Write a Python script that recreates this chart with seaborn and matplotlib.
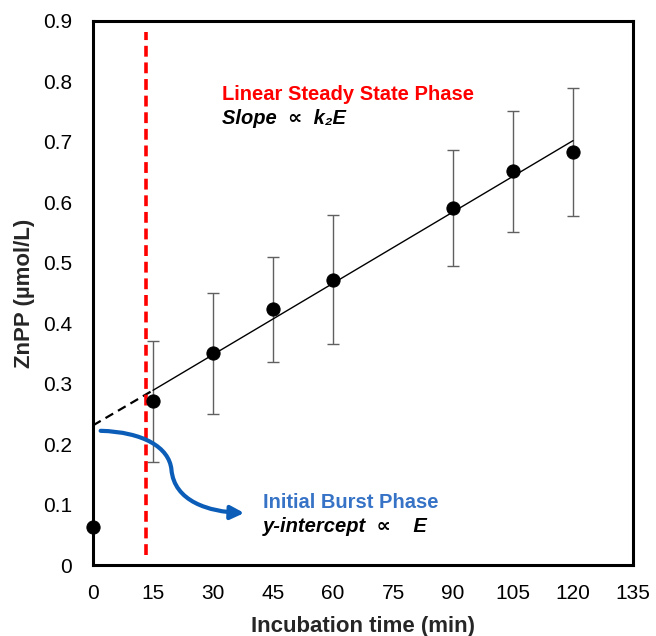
import matplotlib
matplotlib.use("Agg")
import matplotlib.pyplot as plt
import pandas as pd
import seaborn as sns
from matplotlib.path import Path
from matplotlib.patches import FancyArrowPatch

# measured data
time_min = [0, 15, 30, 45, 60, 90, 105, 120]
znpp = [0.063, 0.271, 0.350, 0.423, 0.472, 0.591, 0.651, 0.683]
znpp_err = [0.0, 0.100, 0.100, 0.087, 0.107, 0.096, 0.100, 0.106]

# linear fit of the steady state part and its extrapolation to t = 0
fit_x = [15, 120]
fit_y = [0.289, 0.702]
extrap_x = [0, 15]
extrap_y = [0.231, 0.289]

# burst / steady state boundary
boundary_x = 13.3
boundary_y = [0.017, 0.882]

x_ticks = [0, 15, 30, 45, 60, 75, 90, 105, 120, 135]
y_ticks = [0, 0.1, 0.2, 0.3, 0.4, 0.5, 0.6, 0.7, 0.8, 0.9]

df = pd.DataFrame({"time": time_min, "znpp": znpp, "err": znpp_err})

sns.set_style("white")
plt.rcParams['font.family'] = ['Liberation Sans', 'DejaVu Sans']

fig = plt.figure(figsize=(6.56, 6.36), dpi=100)
ax = fig.add_axes([0.1418, 0.1116, 0.8232, 0.8555])

err_df = df[df["err"] > 0]
ax.errorbar(err_df["time"], err_df["znpp"], yerr=err_df["err"], fmt="none",
            ecolor="#606060", elinewidth=1, capsize=4.5, capthick=1, zorder=2)

sns.lineplot(x=fit_x, y=fit_y, color="black", linewidth=1, ax=ax, zorder=3)
ax.plot(extrap_x, extrap_y, color="black", linewidth=1.6, dashes=(4, 2.5), zorder=3)
ax.plot([boundary_x, boundary_x], boundary_y, color="red", linewidth=2.6,
        dashes=(3, 1.6), zorder=4)

sns.scatterplot(data=df, x="time", y="znpp", color="black", s=90, edgecolor="black",
                ax=ax, zorder=5, clip_on=False)

# curved arrow towards the burst phase label
verts = [(1.9, 0.222), (12.5, 0.220), (19.0, 0.195), (19.6, 0.158),
         (20.3, 0.105), (29.0, 0.088), (37.8, 0.086)]
codes = [Path.MOVETO, Path.CURVE4, Path.CURVE4, Path.CURVE4,
         Path.CURVE4, Path.CURVE4, Path.CURVE4]
arrow = FancyArrowPatch(path=Path(verts, codes), arrowstyle="-|>", mutation_scale=20,
                        color="#0B5DB8", linewidth=3, zorder=4)
ax.add_patch(arrow)

ax.text(32.3, 0.778, "Linear Steady State Phase", color="#FF0000", fontsize=14.5,
        fontweight="bold", va="center", ha="left")
ax.text(32.3, 0.738, "Slope  \u221d  k\u2082E", color="black", fontsize=14.5,
        fontweight="bold", fontstyle="italic", va="center", ha="left")
ax.text(42.5, 0.104, "Initial Burst Phase", color="#3673C6", fontsize=14.5,
        fontweight="bold", va="center", ha="left")
ax.text(42.5, 0.064, "y-intercept  \u221d    E", color="black", fontsize=14.5,
        fontweight="bold", fontstyle="italic", va="center", ha="left")

ax.set_xlim(0, 135)
ax.set_ylim(0, 0.9)
ax.set_xticks(x_ticks)
ax.set_yticks(y_ticks)
ax.set_xticklabels([str(t) for t in x_ticks])
ax.set_yticklabels(["0"] + [f"{v:.1f}" for v in y_ticks[1:]])
ax.tick_params(axis="both", length=0, labelsize=15, colors="black")
ax.tick_params(axis="x", pad=14)
ax.tick_params(axis="y", pad=15)

ax.set_xlabel("Incubation time (min)", fontsize=16, fontweight="bold", labelpad=9)
ax.set_ylabel("ZnPP (\u00b5mol/L)", fontsize=16, fontweight="bold", labelpad=6)

for side in ["left", "right", "top", "bottom"]:
    ax.spines[side].set_visible(True)
    ax.spines[side].set_color("black")
    ax.spines[side].set_linewidth(2.2)

fig.savefig("out.png", dpi=100)
